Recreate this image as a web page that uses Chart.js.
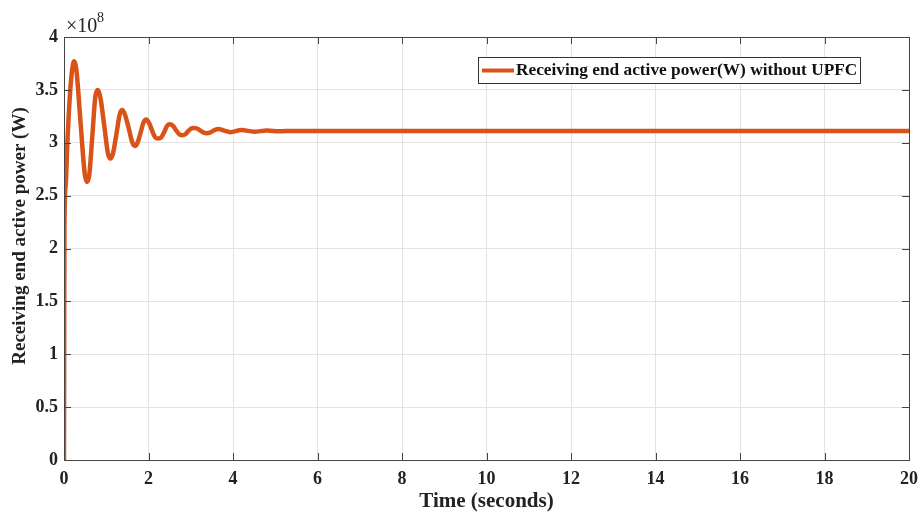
<!DOCTYPE html>
<html>
<head>
<meta charset="utf-8">
<script src="https://cdn.jsdelivr.net/npm/chart.js@4.4.1/dist/chart.umd.min.js"></script>
<style>
  html, body { margin: 0; padding: 0; background: #fff; }
  #wrap { width: 921px; height: 514px; }
</style>
</head>
<body>
<div id="wrap"><canvas id="chart" width="921" height="514"></canvas></div>
<script>
// Receiving end active power without UPFC (values in units of 1e8 W)
const timeSec = [0, 0.005, 0.01, 0.04, 0.08, 0.14, 0.19, 0.24,
  0.29, 0.39, 0.49, 0.545, 0.60, 0.67, 0.74, 0.80,
  0.86, 0.95, 1.04, 1.10, 1.16, 1.24, 1.32, 1.38,
  1.44, 1.53, 1.62, 1.68, 1.74, 1.81, 1.88, 1.94,
  2.01, 2.08, 2.16, 2.23, 2.30, 2.37, 2.44, 2.51,
  2.58, 2.65, 2.73, 2.80, 2.87, 2.94, 3.01, 3.07,
  3.15, 3.23, 3.31, 3.38, 3.45, 3.52, 3.59, 3.65,
  3.79, 3.93, 4.2, 4.5, 4.8, 5.1, 5.4, 6, 20];
const powerE8 = [0, 1.2, 2.2, 2.6, 3.0, 3.45, 3.68, 3.77,
  3.70, 3.2, 2.71, 2.63, 2.70, 3.06, 3.43, 3.50,
  3.43, 3.17, 2.90, 2.85, 2.90, 3.08, 3.27, 3.31,
  3.27, 3.14, 3.00, 2.97, 3.00, 3.09, 3.19, 3.22,
  3.19, 3.12, 3.05, 3.04, 3.05, 3.10, 3.16, 3.175,
  3.16, 3.12, 3.08, 3.07, 3.08, 3.11, 3.135, 3.14,
  3.135, 3.115, 3.095, 3.09, 3.095, 3.11, 3.125, 3.13,
  3.115, 3.10, 3.12, 3.105, 3.115, 3.108, 3.112, 3.11, 3.11];
const xTicks = [0, 2, 4, 6, 8, 10, 12, 14, 16, 18, 20];
const yTicks = [0, 0.5, 1, 1.5, 2, 2.5, 3, 3.5, 4];

const legendLabel = 'Receiving end active power(W) without UPFC';
const xTitle = 'Time (seconds)';
const yTitle = 'Receiving end active power (W)';
const lineColor = '#D95319';
const fontFam = '"Liberation Serif", "Times New Roman", serif';

// draws the frame, inner tick marks, exponent label, axis titles and the legend box
const matlabDecor = {
  id: 'matlabDecor',
  afterDraw(chart) {
    const { ctx, chartArea: a, scales } = chart;
    ctx.save();
    ctx.strokeStyle = '#444';
    ctx.lineWidth = 1;
    ctx.strokeRect(a.left + 0.5, a.top + 0.5, a.right - a.left, a.bottom - a.top);
    ctx.beginPath();
    xTicks.forEach(v => {
      const x = Math.round(scales.x.getPixelForValue(v)) + 0.5;
      ctx.moveTo(x, a.bottom); ctx.lineTo(x, a.bottom - 7);
      ctx.moveTo(x, a.top); ctx.lineTo(x, a.top + 7);
    });
    yTicks.forEach(v => {
      const y = Math.round(scales.y.getPixelForValue(v)) + 0.5;
      ctx.moveTo(a.left, y); ctx.lineTo(a.left + 7, y);
      ctx.moveTo(a.right, y); ctx.lineTo(a.right - 7, y);
    });
    ctx.stroke();

    // exponent
    ctx.fillStyle = '#222';
    ctx.textBaseline = 'alphabetic';
    ctx.font = '20px ' + fontFam;
    ctx.fillText('\u00d710', a.left + 2, a.top - 5);
    ctx.font = '14px ' + fontFam;
    ctx.fillText('8', a.left + 33, a.top - 15);

    // axis titles
    ctx.textAlign = 'center';
    ctx.textBaseline = 'middle';
    ctx.font = 'bold 21px ' + fontFam;
    ctx.fillText(xTitle, (a.left + a.right) / 2, 502);
    ctx.save();
    ctx.translate(20, 236);
    ctx.rotate(-Math.PI / 2);
    ctx.font = 'bold 19px ' + fontFam;
    ctx.fillText(yTitle, 0, 0);
    ctx.restore();
    ctx.textAlign = 'left';

    // legend
    const lx = 478, ly = 57, lw = 382, lh = 26;
    ctx.fillStyle = '#fff';
    ctx.fillRect(lx, ly, lw, lh);
    ctx.strokeStyle = '#333';
    ctx.strokeRect(lx + 0.5, ly + 0.5, lw, lh);
    ctx.strokeStyle = lineColor;
    ctx.lineWidth = 4;
    ctx.beginPath();
    ctx.moveTo(lx + 4, ly + 13.5); ctx.lineTo(lx + 36, ly + 13.5);
    ctx.stroke();
    ctx.fillStyle = '#111';
    ctx.font = 'bold 17.3px ' + fontFam;
    ctx.textBaseline = 'middle';
    ctx.fillText(legendLabel, lx + 38, ly + 14);
    ctx.restore();
  }
};

new Chart(document.getElementById('chart'), {
  type: 'line',
  data: {
    datasets: [{
      label: legendLabel,
      data: timeSec.map((t, i) => ({ x: t, y: powerE8[i] })),
      borderColor: lineColor,
      borderWidth: 4.5,
      pointRadius: 0,
      cubicInterpolationMode: 'monotone',
      fill: false
    }]
  },
  options: {
    responsive: false,
    animation: false,
    layout: { padding: { left: 0, right: 12, top: 37, bottom: 0 } },
    plugins: { legend: { display: false }, tooltip: { enabled: false } },
    scales: {
      x: {
        type: 'linear',
        min: 0, max: 20,
        afterBuildTicks: s => { s.ticks = xTicks.map(v => ({ value: v })); },
        afterFit: s => { s.height = 54; s.paddingRight = 0; s.paddingLeft = 0; },
        grid: { color: '#e3e3e3', drawTicks: false },
        border: { display: false },
        ticks: { color: '#222', padding: 9, maxRotation: 0, callback: v => String(v),
          font: { family: fontFam, size: 18, weight: 'bold' } },
        title: { display: false }
      },
      y: {
        min: 0, max: 4,
        afterBuildTicks: s => { s.ticks = yTicks.map(v => ({ value: v })); },
        afterFit: s => { s.width = 64; },
        grid: { color: '#e3e3e3', drawTicks: false },
        border: { display: false },
        ticks: { color: '#222', padding: 6, callback: v => String(v),
          font: { family: fontFam, size: 18, weight: 'bold' } },
        title: { display: false }
      }
    }
  },
  plugins: [matlabDecor]
});
</script>
</body>
</html>
